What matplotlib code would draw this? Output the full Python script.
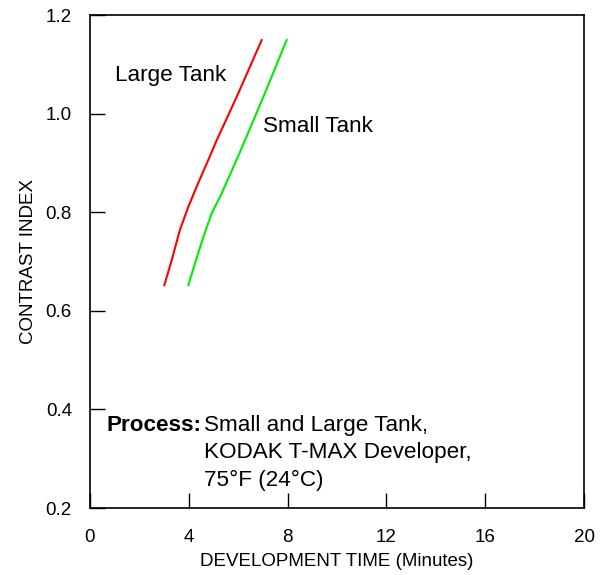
import matplotlib
matplotlib.use("Agg")
import matplotlib.pyplot as plt

plt.rcParams['font.family'] = ['Liberation Sans', 'DejaVu Sans']

large_x = [3.01, 3.31, 3.64, 3.98, 4.38, 4.79, 5.13, 5.94, 6.95]
large_y = [0.652, 0.703, 0.764, 0.811, 0.859, 0.906, 0.946, 1.034, 1.149]
small_x = [3.98, 4.25, 4.59, 4.93, 5.33, 5.87, 6.14, 7.02, 7.96]
small_y = [0.652, 0.696, 0.750, 0.798, 0.838, 0.899, 0.930, 1.034, 1.149]

x_ticks = [0, 4, 8, 12, 16, 20]
y_ticks = [0.2, 0.4, 0.6, 0.8, 1.0, 1.2]

fig = plt.figure(figsize=(6.06, 5.75), dpi=100)
ax = fig.add_axes([0.1485, 0.1165, 0.8152, 0.8574])
ax.plot(large_x, large_y, color='#ff0000', lw=1.5)
ax.plot(small_x, small_y, color='#00ee00', lw=1.5)
ax.set_xlim(0, 20)
ax.set_ylim(0.2, 1.2)
ax.set_xticks(x_ticks)
ax.set_xticklabels([str(v) for v in x_ticks])
ax.set_yticks(y_ticks)
ax.set_yticklabels([f"{v:.1f}" for v in y_ticks])
ax.tick_params(direction='in', length=11, width=1, labelsize=13.5)
ax.tick_params(axis='y', pad=13)
ax.tick_params(axis='x', pad=15)
for s in ax.spines.values():
    s.set_linewidth(1.2)
ax.set_xlabel('DEVELOPMENT TIME (Minutes)', fontsize=13.5, labelpad=5)
ax.set_ylabel('CONTRAST INDEX', fontsize=13.5, labelpad=6)

fs = 16.2
ax.text(3.28, 1.078, 'Large Tank', fontsize=fs, ha='center', va='center')
ax.text(9.23, 0.973, 'Small Tank', fontsize=fs, ha='center', va='center')
ax.text(0.65, 0.367, 'Process:', fontsize=fs, fontweight='bold', ha='left', va='center')
ax.text(4.62, 0.367, 'Small and Large Tank,', fontsize=fs, ha='left', va='center')
ax.text(4.62, 0.312, 'KODAK T-MAX Developer,', fontsize=fs, ha='left', va='center')
ax.text(4.62, 0.256, '75\u00b0F (24\u00b0C)', fontsize=fs, ha='left', va='center')

fig.savefig('out.png', dpi=100)
